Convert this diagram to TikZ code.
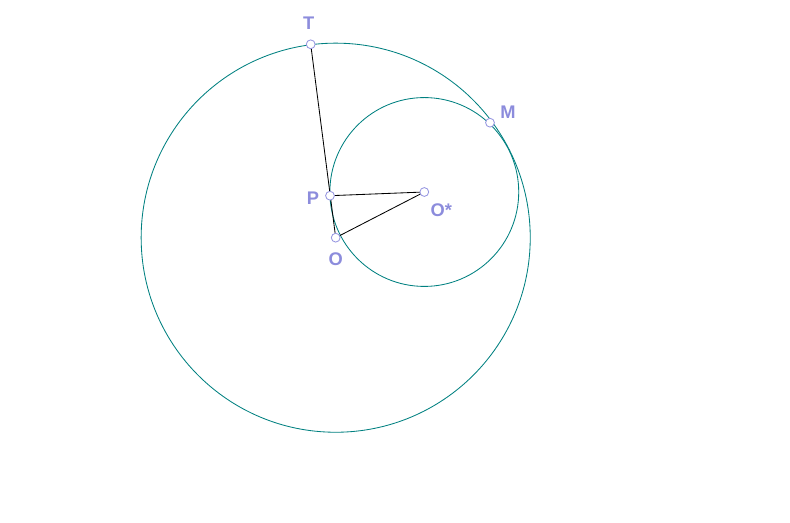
\documentclass[tikz,border=0pt]{standalone}
\usepackage{fontspec}
\setmainfont{Liberation Sans}
\usetikzlibrary{calc}
\definecolor{circcol}{RGB}{0,128,128}
\definecolor{ptcol}{RGB}{150,150,225}
\definecolor{labcol}{RGB}{140,140,220}

\begin{document}
\begin{tikzpicture}[x=0.025cm,y=-0.025cm,
  pt/.style={circle,draw=ptcol,fill=white,inner sep=0pt,minimum size=0.22cm,line width=0.6pt},
  lab/.style={text=labcol,font=\fontsize{13}{15}\selectfont\bfseries}]
  \useasboundingbox (0,0) rectangle (790,523);
  \def\R{4.8625cm}
  \def\r{2.36cm}
  \coordinate (O) at (335.7,237.7);
  \coordinate (Os) at (424.3,192);
  \coordinate (P) at (330,195.7);
  \coordinate (T) at (310.7,44.3);
  \coordinate (M) at (490,122.7);

  % the two circles, tangent from inside
  \draw[circcol,line width=0.6pt] (O) circle[radius=\R];
  \draw[circcol,line width=0.6pt] (Os) circle[radius=\r];

  \draw[line width=0.6pt] (T) -- (O);
  \draw[line width=0.6pt] (P) -- (Os);
  \draw[line width=0.6pt] (O) -- (Os);

  \node[pt] (nT) at (T) {};
  \node[pt] (nM) at (M) {};
  \node[pt] (nP) at (P) {};
  \node[pt] (nO) at (O) {};
  \node[pt] (nOs) at (Os) {};

  \node[lab] at ($(T)+(-2,-21)$) {T};
  \node[lab] at ($(M)+(18,-10)$) {M};
  \node[lab] at ($(P)+(-17,3)$) {P};
  \node[lab] at ($(Os)+(17,18)$) {O*};
  \node[lab] at ($(O)+(0,22)$) {O};
\end{tikzpicture}
\end{document}
